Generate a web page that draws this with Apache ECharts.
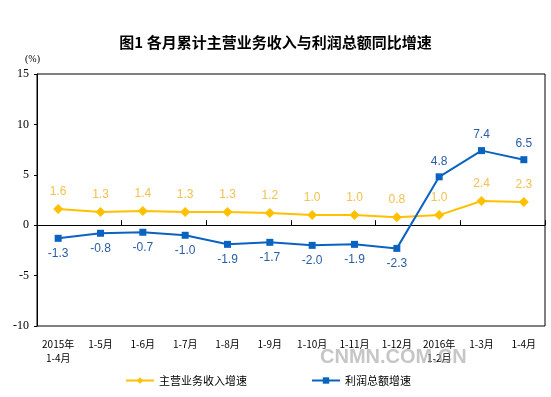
<!DOCTYPE html>
<html><head><meta charset="utf-8">
<script src="https://cdn.jsdelivr.net/npm/echarts@6/dist/echarts.min.js"></script>
<style>html,body{margin:0;padding:0;background:#fff}#c{width:551px;height:397px}</style>
</head><body><div id="c"></div>
<script>
var categories = ['2015年\n1-4月','1-5月','1-6月','1-7月','1-8月','1-9月','1-10月','1-11月','1-12月','2016年\n1-2月','1-3月','1-4月'];
var revenueGrowth = [1.6,1.3,1.4,1.3,1.3,1.2,1.0,1.0,0.8,1.0,2.4,2.3];
var profitGrowth = [-1.3,-0.8,-0.7,-1.0,-1.9,-1.7,-2.0,-1.9,-2.3,4.8,7.4,6.5];
var yTicks = [-10,-5,0,5,10,15];

var chart = echarts.init(document.getElementById('c'));
var cjk = '"Noto Sans CJK SC", sans-serif';
chart.setOption({
  animation:false,
  title:{text:'图1 各月累计主营业务收入与利润总额同比增速',left:'center',top:30,
    textStyle:{fontSize:15,fontWeight:'bold',color:'#000',fontFamily:cjk}},
  grid:{left:37,right:6,top:74,bottom:71,show:true,borderColor:'#000',borderWidth:1},
  legend:{bottom:6,left:120,itemGap:64,itemWidth:28,itemHeight:8,
    textStyle:{fontSize:11,color:'#000',fontFamily:cjk},
    data:['主营业务收入增速','利润总额增速']},
  graphic:[
    {type:'text',left:25,top:54,style:{text:'(%)',fontSize:10,fill:'#000',fontFamily:'"Liberation Serif", serif'}},
    {type:'text',left:320,top:347,z:100,style:{text:'CNMN.COM.CN',fontSize:20,fontWeight:'bold',fill:'rgba(160,160,160,0.6)',fontFamily:'"Liberation Sans", Arial, sans-serif'}}
  ],
  xAxis:[
    {type:'category',data:categories,boundaryGap:true,position:'bottom',
      axisLine:{show:false,onZero:false},
      axisTick:{show:false},
      axisLabel:{interval:0,fontSize:10,color:'#000',fontFamily:cjk,lineHeight:14,margin:11}},
    {type:'category',data:categories,boundaryGap:true,position:'bottom',
      axisLine:{show:true,onZero:true,lineStyle:{color:'#000',width:1}},
      axisTick:{show:true,inside:true,length:5,lineStyle:{color:'#000'}},
      axisLabel:{show:false}}
  ],
  yAxis:{type:'value',min:-10,max:15,interval:5,
    axisLine:{show:true,lineStyle:{color:'#000'}},
    axisTick:{show:true,length:3,lineStyle:{color:'#000'}},
    splitLine:{show:false},
    axisLabel:{fontSize:12,color:'#000',fontFamily:'"Liberation Serif", serif',margin:8}},
  series:[
    {name:'主营业务收入增速',type:'line',data:revenueGrowth,symbol:'diamond',symbolSize:10,
      itemStyle:{color:'#FFC000'},lineStyle:{color:'#FFC000',width:2},
      label:{show:true,position:'top',distance:6,color:'#F2C14E',fontSize:12,fontFamily:'"Liberation Sans", Arial, sans-serif',
        formatter:function(p){return p.value.toFixed(1);}}},
    {name:'利润总额增速',type:'line',symbol:'rect',symbolSize:7,
      itemStyle:{color:'#0B63C1'},lineStyle:{color:'#0B63C1',width:2},
      label:{show:true,distance:6,color:'#2A5CA8',fontSize:12,fontFamily:'"Liberation Sans", Arial, sans-serif',
        position:'bottom',
        formatter:function(p){return p.value.toFixed(1);}},
      data:profitGrowth.map(function(v){return {value:v,label:{position:v<0?'bottom':'top'}};})}
  ]
});
</script></body></html>
